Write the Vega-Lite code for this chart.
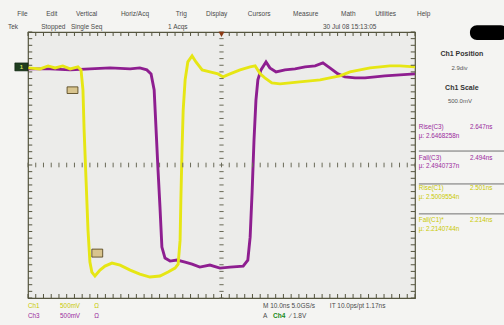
{
 "$schema": "https://vega.github.io/schema/vega-lite/v6.json",
 "width": 387, "height": 266,
 "autosize": {"type": "none"},
 "padding": {"left": 28, "top": 32, "right": 89, "bottom": 27},
 "background": "#f4f4f2",
 "view": {"fill": "#ececea", "stroke": "#55553f", "strokeWidth": 1.2},
 "config": {
  "axis": {"labels": false, "ticks": false, "domain": false, "grid": true, "gridColor": "#8a8a80", "gridDash": [1.2, 6.4], "gridWidth": 1},
  "axisX": {"tickCount": 10}, "axisY": {"tickCount": 8},
  "text": {"font": "Liberation Sans", "fontSize": 6.5, "baseline": "middle", "align": "left"}
 },
 "datasets": {
  "xt": [{"t":-50},{"t":-48},{"t":-46},{"t":-44},{"t":-42},{"t":-40},{"t":-38},{"t":-36},{"t":-34},{"t":-32},{"t":-30},{"t":-28},{"t":-26},{"t":-24},{"t":-22},{"t":-20},{"t":-18},{"t":-16},{"t":-14},{"t":-12},{"t":-10},{"t":-8},{"t":-6},{"t":-4},{"t":-2},{"t":0},{"t":2},{"t":4},{"t":6},{"t":8},{"t":10},{"t":12},{"t":14},{"t":16},{"t":18},{"t":20},{"t":22},{"t":24},{"t":26},{"t":28},{"t":30},{"t":32},{"t":34},{"t":36},{"t":38},{"t":40},{"t":42},{"t":44},{"t":46},{"t":48},{"t":50}],
  "yt": [{"v":-4},{"v":-3.8},{"v":-3.6},{"v":-3.4},{"v":-3.2},{"v":-3},{"v":-2.8},{"v":-2.6},{"v":-2.4},{"v":-2.2},{"v":-2},{"v":-1.8},{"v":-1.6},{"v":-1.4},{"v":-1.2},{"v":-1},{"v":-0.8},{"v":-0.6},{"v":-0.4},{"v":-0.2},{"v":0},{"v":0.2},{"v":0.4},{"v":0.6},{"v":0.8},{"v":1},{"v":1.2},{"v":1.4},{"v":1.6},{"v":1.8},{"v":2},{"v":2.2},{"v":2.4},{"v":2.6},{"v":2.8},{"v":3},{"v":3.2},{"v":3.4},{"v":3.6},{"v":3.8},{"v":4}],
  "c1": [{"t":-50,"v":2.92},{"t":-46.9,"v":2.89},{"t":-44.8,"v":2.98},{"t":-43,"v":2.92},{"t":-41,"v":2.98},{"t":-39.1,"v":2.89},{"t":-37.1,"v":2.95},{"t":-36.3,"v":2.86},{"t":-35.8,"v":2.26},{"t":-35.5,"v":1.05},{"t":-35,"v":-0.45},{"t":-34.5,"v":-1.95},{"t":-34,"v":-2.92},{"t":-33.5,"v":-3.22},{"t":-32.7,"v":-3.34},{"t":-31.4,"v":-3.16},{"t":-30.1,"v":-3.04},{"t":-28.3,"v":-2.95},{"t":-26.2,"v":-3.01},{"t":-23.6,"v":-3.16},{"t":-21.1,"v":-3.28},{"t":-18.5,"v":-3.37},{"t":-15.9,"v":-3.34},{"t":-13.8,"v":-3.22},{"t":-12,"v":-3.1},{"t":-11.2,"v":-2.98},{"t":-10.7,"v":-2.26},{"t":-10.5,"v":-1.05},{"t":-10.2,"v":0.45},{"t":-9.9,"v":1.65},{"t":-9.4,"v":2.56},{"t":-8.7,"v":3.1},{"t":-7.6,"v":3.28},{"t":-6.6,"v":3.1},{"t":-5,"v":2.86},{"t":-3,"v":2.8},{"t":-0.9,"v":2.74},{"t":0.4,"v":2.65},{"t":2.2,"v":2.74},{"t":4.8,"v":2.86},{"t":7.4,"v":2.95},{"t":8.7,"v":2.98},{"t":10,"v":2.74},{"t":11.2,"v":2.62},{"t":13,"v":2.47},{"t":15.1,"v":2.44},{"t":17.7,"v":2.47},{"t":20.2,"v":2.5},{"t":22.9,"v":2.53},{"t":25.5,"v":2.56},{"t":28,"v":2.62},{"t":30.6,"v":2.68},{"t":33.2,"v":2.8},{"t":35.8,"v":2.86},{"t":38.4,"v":2.92},{"t":41,"v":2.95},{"t":43.5,"v":2.98},{"t":46.1,"v":2.98},{"t":50,"v":2.95}],
  "c3": [{"t":-50,"v":2.89},{"t":-44.3,"v":2.89},{"t":-39.1,"v":2.86},{"t":-34,"v":2.89},{"t":-28.8,"v":2.92},{"t":-23.6,"v":2.89},{"t":-21.1,"v":2.92},{"t":-19.3,"v":2.86},{"t":-18.2,"v":2.74},{"t":-17.4,"v":2.26},{"t":-16.9,"v":1.05},{"t":-16.4,"v":-0.15},{"t":-15.9,"v":-1.26},{"t":-15.4,"v":-2.47},{"t":-14.6,"v":-2.8},{"t":-13.3,"v":-2.89},{"t":-11.5,"v":-2.86},{"t":-9.4,"v":-2.92},{"t":-7.6,"v":-2.98},{"t":-5.6,"v":-3.07},{"t":-3,"v":-3.01},{"t":-0.4,"v":-3.1},{"t":2.2,"v":-3.07},{"t":5.6,"v":-3.04},{"t":6.8,"v":-2.86},{"t":7.4,"v":-2.17},{"t":7.9,"v":-0.84},{"t":8.4,"v":0.75},{"t":8.9,"v":1.95},{"t":9.4,"v":2.56},{"t":10.2,"v":2.86},{"t":11.5,"v":3.1},{"t":12.5,"v":2.92},{"t":14.1,"v":2.8},{"t":16.4,"v":2.86},{"t":19,"v":2.89},{"t":21.6,"v":2.95},{"t":24.2,"v":2.98},{"t":26.2,"v":3.07},{"t":28,"v":2.92},{"t":30.1,"v":2.74},{"t":31.9,"v":2.65},{"t":34.5,"v":2.62},{"t":37.1,"v":2.62},{"t":39.7,"v":2.65},{"t":42.2,"v":2.68},{"t":46.1,"v":2.71},{"t":50,"v":2.74}],
  "top": [{"label":"File","t":-52.8,"v":4.54},{"label":"Edit","t":-45.3,"v":4.54},{"label":"Vertical","t":-37.6,"v":4.54},{"label":"Horiz/Acq","t":-26,"v":4.54},{"label":"Trig","t":-11.8,"v":4.54},{"label":"Display","t":-4,"v":4.54},{"label":"Cursors","t":6.8,"v":4.54},{"label":"Measure","t":18.5,"v":4.54},{"label":"Math","t":30.9,"v":4.54},{"label":"Utilities","t":39.7,"v":4.54},{"label":"Help","t":50.5,"v":4.54},{"label":"Tek","t":-55.2,"v":4.15},{"label":"Stopped","t":-46.6,"v":4.15},{"label":"Single Seq","t":-38.9,"v":4.15},{"label":"1 Acqs","t":-13.8,"v":4.15},{"label":"30 Jul 08 15:13:05","t":26.2,"v":4.15},{"label":"M 10.0ns 5.0GS/s","t":10.7,"v":-4.24},{"label":"IT 10.0ps/pt  1.17ns","t":28,"v":-4.24},{"label":"A","t":10.7,"v":-4.54},{"label":"∕  1.8V","t":17.7,"v":-4.54}],
  "heads": [{"label":"Ch1 Position","t":62.1,"v":3.34},{"label":"Ch1 Scale","t":62.1,"v":2.32}],
  "headvals": [{"label":"2.9div","t":61.5,"v":2.92},{"label":"500.0mV","t":61.6,"v":1.92}],
  "m3": [{"label":"Rise(C3)","t":51,"v":1.14},{"label":"2.647ns","t":64.2,"v":1.14},{"label":"µ: 2.6468258n","t":51,"v":0.87},{"label":"Fall(C3)","t":51,"v":0.21},{"label":"2.494ns","t":64.2,"v":0.21},{"label":"µ: 2.4940737n","t":51,"v":-0.03},{"label":"Ch3","t":-50,"v":-4.54},{"label":"500mV","t":-41.7,"v":-4.54},{"label":"Ω","t":-32.9,"v":-4.54}],
  "m1": [{"label":"Rise(C1)","t":51,"v":-0.69},{"label":"2.501ns","t":64.2,"v":-0.69},{"label":"µ: 2.5009554n","t":51,"v":-0.96},{"label":"Fall(C1)*","t":51,"v":-1.65},{"label":"2.214ns","t":64.2,"v":-1.65},{"label":"µ: 2.2140744n","t":51,"v":-1.92},{"label":"Ch1","t":-50,"v":-4.24},{"label":"500mV","t":-41.7,"v":-4.24},{"label":"Ω","t":-32.9,"v":-4.24}],
  "seps": [{"v":0.42},{"v":-0.57},{"v":-1.47}]
 },
 "layer": [
  {"data": {"name": "c3"}, "mark": {"type": "line", "color": "#8e1e90", "strokeWidth": 2.9, "clip": true},
   "encoding": {"x": {"field": "t", "type": "quantitative", "scale": {"domain": [-50, 50], "nice": false, "zero": false}, "axis": {"title": null}},
                "y": {"field": "v", "type": "quantitative", "scale": {"domain": [-4, 4], "nice": false, "zero": false}, "axis": {"title": null}}}},
  {"data": {"name": "c1"}, "mark": {"type": "line", "color": "#e6e614", "strokeWidth": 2.9, "clip": true},
   "encoding": {"x": {"field": "t", "type": "quantitative", "axis": null}, "y": {"field": "v", "type": "quantitative", "axis": null}}},
  {"data": {"name": "xt"}, "mark": {"type": "rule", "color": "#55553f", "strokeWidth": 1},
   "encoding": {"x": {"field": "t", "type": "quantitative", "axis": null}, "y": {"datum": 4, "axis": null}, "y2": {"datum": 3.88}}},
  {"data": {"name": "xt"}, "mark": {"type": "rule", "color": "#55553f", "strokeWidth": 1},
   "encoding": {"x": {"field": "t", "type": "quantitative", "axis": null}, "y": {"datum": -4, "axis": null}, "y2": {"datum": -3.88}}},
  {"data": {"name": "xt"}, "mark": {"type": "rule", "color": "#6a6a58", "strokeWidth": 1},
   "encoding": {"x": {"field": "t", "type": "quantitative", "axis": null}, "y": {"datum": -0.07, "axis": null}, "y2": {"datum": 0.07}}},
  {"data": {"name": "yt"}, "mark": {"type": "rule", "color": "#55553f", "strokeWidth": 1},
   "encoding": {"y": {"field": "v", "type": "quantitative", "axis": null}, "x": {"datum": -50, "axis": null}, "x2": {"datum": -48.9}}},
  {"data": {"name": "yt"}, "mark": {"type": "rule", "color": "#55553f", "strokeWidth": 1},
   "encoding": {"y": {"field": "v", "type": "quantitative", "axis": null}, "x": {"datum": 50, "axis": null}, "x2": {"datum": 48.9}}},
  {"data": {"name": "yt"}, "mark": {"type": "rule", "color": "#6a6a58", "strokeWidth": 1},
   "encoding": {"y": {"field": "v", "type": "quantitative", "axis": null}, "x": {"datum": -0.55, "axis": null}, "x2": {"datum": 0.55}}},
  {"data": {"values": [{"t": 0, "v": 3.93}]}, "mark": {"type": "point", "shape": "triangle-down", "filled": true, "color": "#8b3a14", "size": 35, "opacity": 1},
   "encoding": {"x": {"field": "t", "type": "quantitative", "axis": null}, "y": {"field": "v", "type": "quantitative", "axis": null}}},
  {"data": {"values": [{"t": -53.4, "t2": -50, "v": 3.07, "v2": 2.83}]}, "mark": {"type": "rect", "fill": "#1f3d1f", "stroke": "#0d200d", "strokeWidth": 0.6},
   "encoding": {"x": {"field": "t", "type": "quantitative", "axis": null}, "x2": {"field": "t2"}, "y": {"field": "v", "type": "quantitative", "axis": null}, "y2": {"field": "v2"}}},
  {"data": {"values": [{"label": "1", "t": -51.7, "v": 2.95}]}, "mark": {"type": "text", "color": "#d8e060", "fontSize": 6, "fontWeight": "bold", "align": "center"},
   "encoding": {"x": {"field": "t", "type": "quantitative", "axis": null}, "y": {"field": "v", "type": "quantitative", "axis": null}, "text": {"field": "label"}}},
  {"data": {"values": [{"t": -39.9, "t2": -37.1, "v": 2.35, "v2": 2.15}, {"t": -33.5, "t2": -30.7, "v": -2.53, "v2": -2.77}]}, "mark": {"type": "rect", "fill": "#d8c48e", "stroke": "#4a3a12", "strokeWidth": 0.8},
   "encoding": {"x": {"field": "t", "type": "quantitative", "axis": null}, "x2": {"field": "t2"}, "y": {"field": "v", "type": "quantitative", "axis": null}, "y2": {"field": "v2"}}},
  {"data": {"values": [{"t": 64.2, "t2": 74, "v": 4.2, "v2": 3.76}]}, "mark": {"type": "rect", "fill": "#000000", "cornerRadius": 7},
   "encoding": {"x": {"field": "t", "type": "quantitative", "axis": null}, "x2": {"field": "t2"}, "y": {"field": "v", "type": "quantitative", "axis": null}, "y2": {"field": "v2"}}},
  {"data": {"name": "seps"}, "mark": {"type": "rule", "color": "#707070", "strokeWidth": 1},
   "encoding": {"y": {"field": "v", "type": "quantitative", "axis": null}, "x": {"datum": 51, "axis": null}, "x2": {"datum": 73}}},
  {"data": {"name": "top"}, "mark": {"type": "text", "color": "#4a4a4a", "fontSize": 6.5},
   "encoding": {"x": {"field": "t", "type": "quantitative", "axis": null}, "y": {"field": "v", "type": "quantitative", "axis": null}, "text": {"field": "label"}}},
  {"data": {"values": [{"label": "Ch4", "t": 13.3, "v": -4.54}]}, "mark": {"type": "text", "color": "#178a17", "fontWeight": "bold", "fontSize": 6.5},
   "encoding": {"x": {"field": "t", "type": "quantitative", "axis": null}, "y": {"field": "v", "type": "quantitative", "axis": null}, "text": {"field": "label"}}},
  {"data": {"name": "heads"}, "mark": {"type": "text", "color": "#333333", "fontWeight": "bold", "fontSize": 7, "align": "center"},
   "encoding": {"x": {"field": "t", "type": "quantitative", "axis": null}, "y": {"field": "v", "type": "quantitative", "axis": null}, "text": {"field": "label"}}},
  {"data": {"name": "headvals"}, "mark": {"type": "text", "color": "#555555", "fontSize": 6, "align": "center"},
   "encoding": {"x": {"field": "t", "type": "quantitative", "axis": null}, "y": {"field": "v", "type": "quantitative", "axis": null}, "text": {"field": "label"}}},
  {"data": {"name": "m3"}, "mark": {"type": "text", "color": "#9a2a9c", "fontSize": 6.3},
   "encoding": {"x": {"field": "t", "type": "quantitative", "axis": null}, "y": {"field": "v", "type": "quantitative", "axis": null}, "text": {"field": "label"}}},
  {"data": {"name": "m1"}, "mark": {"type": "text", "color": "#c9c900", "fontSize": 6.3},
   "encoding": {"x": {"field": "t", "type": "quantitative", "axis": null}, "y": {"field": "v", "type": "quantitative", "axis": null}, "text": {"field": "label"}}}
 ]
}
